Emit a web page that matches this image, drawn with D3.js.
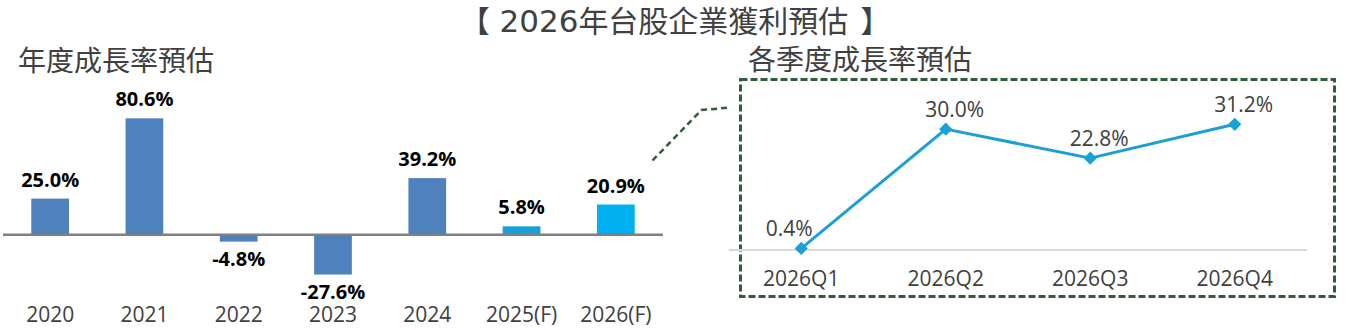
<!DOCTYPE html>
<html>
<head>
<meta charset="utf-8">
<script src="https://cdn.jsdelivr.net/npm/d3@7"></script>
<style>
  html, body { margin: 0; padding: 0; background: #fff; }
  svg { display: block; }
</style>
</head>
<body>
<svg id="chart" width="1351" height="330"></svg>
<script>
// ---- data ----
const titleParts = ["【", " 2026", "年台股企業獲利預估", "】"];
const leftTitle = "年度成長率預估";
const rightTitle = "各季度成長率預估";

const years = ["2020", "2021", "2022", "2023", "2024", "2025(F)", "2026(F)"];
const yearGrowth = [25.0, 80.6, -4.8, -27.6, 39.2, 5.8, 20.9];

const quarters = ["2026Q1", "2026Q2", "2026Q3", "2026Q4"];
const quarterGrowth = [0.4, 30.0, 22.8, 31.2];

// ---- drawing ----
const svg = d3.select("#chart");
const cjk = "'Noto Sans CJK TC', 'Noto Sans CJK SC', sans-serif";
const latin = "'Open Sans', 'Noto Sans', sans-serif";
const textGray = "#404040";
const green = "#2E5E3B";
const lineBlue = "#1A9FD6";

// main title
const title = svg.append("text")
  .attr("x", 675).attr("y", 31.5)
  .attr("text-anchor", "middle")
  .attr("font-family", cjk).attr("font-size", 30)
  .attr("fill", textGray);
title.append("tspan").text(titleParts[0]);
title.append("tspan").attr("font-family", "'DejaVu Sans', sans-serif").attr("font-size", 31).text(titleParts[1]);
title.append("tspan").text(titleParts[2]);
title.append("tspan").attr("dx", 12).text(titleParts[3]);

svg.append("text")
  .attr("x", 18).attr("y", 71)
  .attr("font-family", cjk).attr("font-size", 28)
  .attr("fill", textGray)
  .text(leftTitle);

svg.append("text")
  .attr("x", 748).attr("y", 70)
  .attr("font-family", cjk).attr("font-size", 28)
  .attr("fill", textGray)
  .text(rightTitle);

// ---- left bar chart ----
const xBand = d3.scaleBand().domain(years).range([3, 663]).paddingInner(0.6).paddingOuter(0.3);
const yBar = d3.scaleLinear().domain([-30, 85]).range([278, 112]);
const barColor = (d, i) => i === 5 ? "#1BA0D3" : (i === 6 ? "#00B0F0" : "#4F81BD");

const left = svg.append("g");
left.selectAll("rect.bar")
  .data(yearGrowth)
  .join("rect")
  .attr("class", "bar")
  .attr("x", (d, i) => xBand(years[i]))
  .attr("width", xBand.bandwidth())
  .attr("y", d => yBar(Math.max(0, d)))
  .attr("height", d => Math.abs(yBar(d) - yBar(0)))
  .attr("fill", barColor);

// zero axis
left.append("line")
  .attr("x1", 3).attr("x2", 663)
  .attr("y1", yBar(0)).attr("y2", yBar(0))
  .attr("stroke", "#808080").attr("stroke-width", 2.5);

// value labels
left.selectAll("text.val")
  .data(yearGrowth)
  .join("text")
  .attr("class", "val")
  .attr("x", (d, i) => xBand(years[i]) + xBand.bandwidth() / 2)
  .attr("y", d => d >= 0 ? yBar(d) - 12 : yBar(d) + 24)
  .attr("text-anchor", "middle")
  .attr("font-family", latin).attr("font-size", 20).attr("font-weight", "bold")
  .attr("fill", "#000")
  .text(d => d.toFixed(1) + "%");

// category labels
left.selectAll("text.cat")
  .data(years)
  .join("text")
  .attr("class", "cat")
  .attr("x", d => xBand(d) + xBand.bandwidth() / 2)
  .attr("y", 322)
  .attr("text-anchor", "middle")
  .attr("font-family", latin).attr("font-size", 21)
  .attr("fill", textGray)
  .text(d => d);

// ---- connector ----
svg.append("path")
  .attr("d", "M652.5,160.5 L701.5,110 L731,107.5")
  .attr("fill", "none")
  .attr("stroke", green).attr("stroke-width", 2.5)
  .attr("stroke-dasharray", "6,4");

// ---- right panel box ----
svg.append("rect")
  .attr("x", 740.5).attr("y", 79.5)
  .attr("width", 594).attr("height", 217)
  .attr("fill", "none")
  .attr("stroke", green).attr("stroke-width", 3)
  .attr("stroke-dasharray", "7,3");

// ---- right line chart ----
const xPt = d3.scalePoint().domain(quarters).range([729, 1307]).padding(0.5);
const yLine = d3.scaleLinear().domain([0, 35]).range([250, 109]);

const right = svg.append("g");
right.append("line")
  .attr("x1", 729).attr("x2", 1307)
  .attr("y1", yLine(0)).attr("y2", yLine(0))
  .attr("stroke", "#D9D9D9").attr("stroke-width", 2);

const lineGen = d3.line()
  .x((d, i) => xPt(quarters[i]))
  .y(d => yLine(d));

right.append("path")
  .datum(quarterGrowth)
  .attr("d", lineGen)
  .attr("fill", "none")
  .attr("stroke", lineBlue).attr("stroke-width", 3)
  .attr("stroke-linejoin", "round");

right.selectAll("path.mk")
  .data(quarterGrowth)
  .join("path")
  .attr("class", "mk")
  .attr("d", d3.symbol().type(d3.symbolDiamond2).size(110))
  .attr("transform", (d, i) => `translate(${xPt(quarters[i])},${yLine(d)})`)
  .attr("fill", lineBlue);

right.selectAll("text.val")
  .data(quarterGrowth)
  .join("text")
  .attr("class", "val")
  .attr("x", (d, i) => xPt(quarters[i]) + (i === 0 ? -12 : 9))
  .attr("y", d => yLine(d) - 12)
  .attr("text-anchor", "middle")
  .attr("font-family", latin).attr("font-size", 21)
  .attr("fill", textGray)
  .text(d => d.toFixed(1) + "%");

right.selectAll("text.cat")
  .data(quarters)
  .join("text")
  .attr("class", "cat")
  .attr("x", d => xPt(d))
  .attr("y", 286)
  .attr("text-anchor", "middle")
  .attr("font-family", latin).attr("font-size", 21)
  .attr("fill", textGray)
  .text(d => d);
</script>
</body>
</html>
